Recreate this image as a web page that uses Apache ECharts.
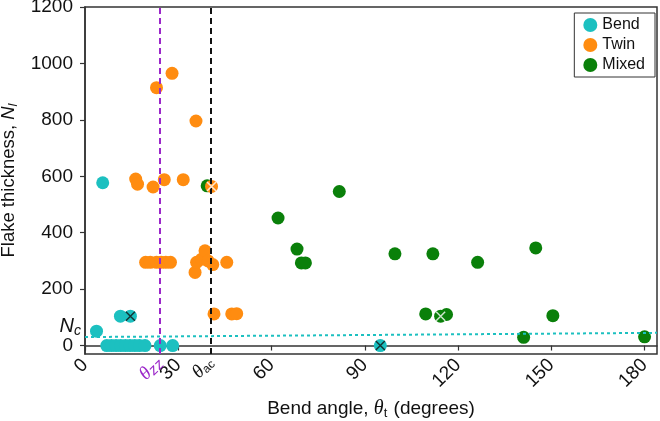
<!DOCTYPE html>
<html>
<head>
<meta charset="utf-8">
<script src="https://cdn.jsdelivr.net/npm/echarts@6/dist/echarts.min.js"></script>
<style>html,body{margin:0;padding:0;background:#fff}#c{width:660px;height:421px}</style>
</head>
<body>
<div id="c"></div>
<script>
// ---- data ----
const bendX = [5.7, 3.7, 11.4, 14.6, 7, 8.5, 10, 11.5, 13, 14.5, 16, 17.5, 19.3, 24.2, 28.2, 95];
const bendY = [577, 51, 104, 104, 0, 0, 0, 0, 0, 0, 0, 0, 0, 0, 0, 0];
const twinX = [23.0, 28.0, 35.7, 16.3, 16.9, 21.9, 25.5, 31.6, 40.7,
               19.5, 21, 23, 24.5, 26, 27.5,
               35.4, 35.9, 37.5, 38.6, 39.6, 41.1, 45.6,
               41.5, 47.2, 48.8];
const twinY = [914, 965, 796, 590, 572, 562, 588, 588, 564,
               295, 295, 295, 295, 295, 295,
               259, 295, 306, 336, 300, 287, 295,
               112, 112, 113];
const mixedX = [39.3, 62.1, 81.8, 68.2, 69.6, 70.9, 99.7, 111.9, 126.3, 145, 109.6, 114.4, 116.3, 141.1, 150.5, 180];
const mixedY = [566, 452, 546, 342, 293, 293, 325, 325, 295, 346, 112, 104, 110, 29, 106, 31];
const crossBlackX = [14.6, 95];
const crossBlackY = [104, 0];
const crossWhiteX = [40.7, 114.4];
const crossWhiteY = [564, 104];
const xTicks = [0, 30, 60, 90, 120, 150, 180];
const yTicks = [0, 200, 400, 600, 800, 1000, 1200];
const thetaZZ = 24;
const thetaAC = 40.5;
const ncLine = [[0, 30], [184, 45]];
const ncLabelValue = 67;

const zip = (a, b) => a.map((v, i) => [v, b[i]]);
const FONT = 'Liberation Sans, Arial, sans-serif';
const C_BEND = '#1cc0c0', C_TWIN = '#ff8c10', C_MIXED = '#0a800a';
const crossPath = 'path://M0,0L10,10M10,0L0,10';

const chart = echarts.init(document.getElementById('c'), null, {renderer: 'canvas'});
chart.setOption({
  animation: false,
  backgroundColor: '#fff',
  textStyle: {fontFamily: FONT},
  grid: {left: 85, top: 7, right: 3, bottom: 67, show: true, borderColor: '#333', borderWidth: 1.5,
         containLabel: false, outerBoundsMode: 'none'},
  legend: {
    data: ['Bend', 'Twin', 'Mixed'], orient: 'vertical', right: 5, top: 13,
    icon: 'circle', itemWidth: 14, itemHeight: 14, itemGap: 4,
    borderColor: '#333', borderWidth: 1, padding: [4, 10, 4, 9],
    textStyle: {fontSize: 16, color: '#111', fontFamily: FONT}
  },
  xAxis: [{
    type: 'value', min: 0, max: 184,
    axisLine: {show: true, lineStyle: {color: '#333', width: 1.5}},
    axisTick: {show: true, inside: false, length: 5, customValues: xTicks, lineStyle: {color: '#333', width: 1.2}},
    axisLabel: {customValues: xTicks, rotate: 45, margin: 8, fontSize: 19, color: '#111', fontFamily: FONT},
    splitLine: {show: false},
    name: '{a|Bend angle, }{th|θ}{t|t}{a| (degrees)}', nameLocation: 'middle', nameGap: 43,
    nameTextStyle: {
      fontFamily: FONT, fontSize: 19, color: '#111',
      rich: {
        a: {fontFamily: FONT, fontSize: 19, color: '#111'},
        th: {fontFamily: 'Liberation Serif', fontStyle: 'italic', fontSize: 20, color: '#111'},
        t: {fontFamily: FONT, fontSize: 13, color: '#111', verticalAlign: 'bottom', padding: [10, 1, 0, 0]}
      }
    }
  }, {
    type: 'value', min: 0, max: 184, position: 'bottom',
    axisLine: {show: false}, axisTick: {show: false}, splitLine: {show: false},
    axisLabel: {
      customValues: [thetaZZ, thetaAC], rotate: 45, margin: 6,
      formatter: v => v === thetaZZ ? '{tz|θ}{sz|zz}' : '{ta|θ}{sa|ac}',
      rich: {
        tz: {fontFamily: 'Liberation Serif', fontStyle: 'italic', fontSize: 19, color: '#9b27c9'},
        sz: {fontFamily: FONT, fontStyle: 'italic', fontSize: 15, color: '#9b27c9', verticalAlign: 'bottom', padding: [6, 0, 0, 0]},
        ta: {fontFamily: 'Liberation Serif', fontStyle: 'italic', fontSize: 19, color: '#111'},
        sa: {fontFamily: FONT, fontSize: 12, color: '#111', verticalAlign: 'bottom', padding: [6, 0, 0, 0]}
      }
    }
  }],
  yAxis: [{
    type: 'value', min: -30, max: 1200,
    axisLine: {show: true, lineStyle: {color: '#333', width: 1.5}},
    axisTick: {show: true, inside: false, length: 5, customValues: yTicks, lineStyle: {color: '#333', width: 1.2}},
    axisLabel: {customValues: yTicks, margin: 12, fontSize: 19, color: '#111', fontFamily: FONT, formatter: v => String(v)},
    splitLine: {show: false},
    name: '{a|Flake thickness, }{n|N}{l|l}', nameLocation: 'middle', nameGap: 58, nameRotate: 90,
    nameTextStyle: {
      fontFamily: FONT, fontSize: 18.5, color: '#111',
      rich: {
        a: {fontFamily: FONT, fontSize: 18.5, color: '#111'},
        n: {fontFamily: FONT, fontStyle: 'italic', fontSize: 18.5, color: '#111'},
        l: {fontFamily: FONT, fontStyle: 'italic', fontSize: 13, color: '#111', verticalAlign: 'bottom', padding: [8, 0, 0, 0]}
      }
    }
  }, {
    type: 'value', min: -30, max: 1200, position: 'left',
    axisLine: {show: false}, axisTick: {show: false}, splitLine: {show: false},
    axisLabel: {
      customValues: [ncLabelValue], margin: 4,
      formatter: () => '{n|N}{c|c}',
      rich: {
        n: {fontFamily: FONT, fontStyle: 'italic', fontSize: 20, color: '#111'},
        c: {fontFamily: FONT, fontStyle: 'italic', fontSize: 14, color: '#111', verticalAlign: 'bottom', padding: [8, 0, 0, 0]}
      }
    }
  }],
  series: [
    {name: 'Bend', type: 'scatter', symbol: 'circle', symbolSize: 13, itemStyle: {color: C_BEND, opacity: 1}, data: zip(bendX, bendY), z: 3},
    {name: 'Mixed', type: 'scatter', symbol: 'circle', symbolSize: 13, itemStyle: {color: C_MIXED, opacity: 1}, data: zip(mixedX, mixedY), z: 3},
    {name: 'Twin', type: 'scatter', symbol: 'circle', symbolSize: 13, itemStyle: {color: C_TWIN, opacity: 1}, data: zip(twinX, twinY), z: 4},
    {name: 'refs', type: 'scatter', data: [], z: 2,
     markLine: {
       silent: true, symbol: 'none', label: {show: false}, animation: false,
       data: [
         {xAxis: thetaZZ, lineStyle: {color: '#9b27c9', type: [6, 4], width: 2}},
         {xAxis: thetaAC, lineStyle: {color: '#111', type: [6, 4], width: 2}},
         [{coord: ncLine[0], lineStyle: {color: '#1cc0c0', type: [3, 3], width: 2}}, {coord: ncLine[1]}]
       ]
     }},
    {name: 'crossB', type: 'scatter', symbol: crossPath, symbolSize: 9, z: 5,
     itemStyle: {color: 'rgba(0,0,0,0)', borderColor: '#111', borderWidth: 1.5}, data: zip(crossBlackX, crossBlackY)},
    {name: 'crossW', type: 'scatter', symbol: crossPath, symbolSize: 9, z: 5,
     itemStyle: {color: 'rgba(0,0,0,0)', borderColor: '#fff', borderWidth: 1.5}, data: zip(crossWhiteX, crossWhiteY)}
  ]
});
</script>
</body>
</html>
